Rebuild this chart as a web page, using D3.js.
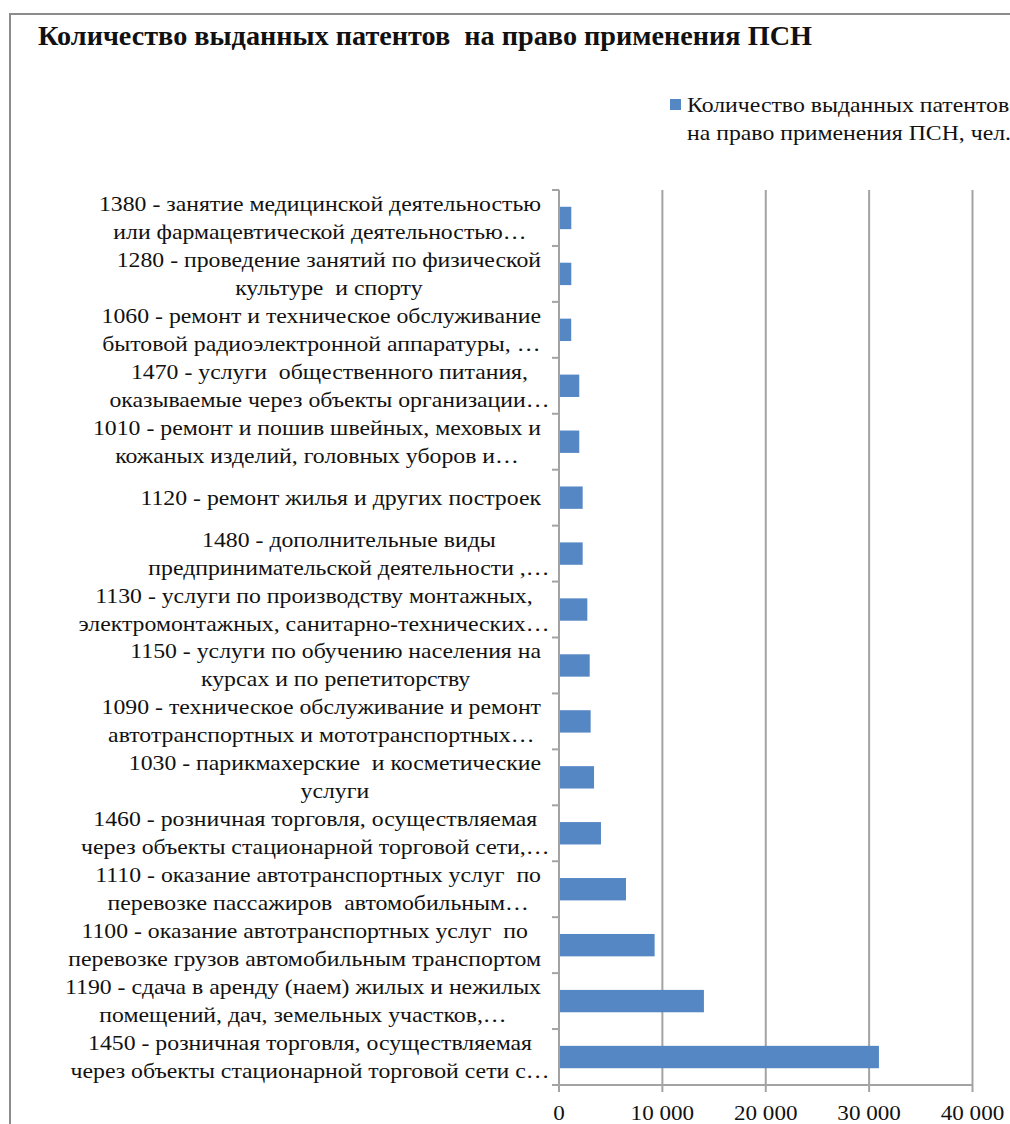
<!DOCTYPE html>
<html>
<head>
<meta charset="utf-8">
<script src="https://cdn.jsdelivr.net/npm/d3@7"></script>
</head>
<body style="margin:0;background:#fff">
<svg width="1010" height="1124"></svg>
<script>
var title = "Количество выданных патентов  на право применения ПСН";
var seriesName = ["Количество выданных патентов", "на право применения ПСН, чел."];
var codes = ["1380", "1280", "1060", "1470", "1010", "1120", "1480", "1130",
             "1150", "1090", "1030", "1460", "1110", "1100", "1190", "1450"];
var labelLines = [
    ["1380 - занятие медицинской деятельностью", "или фармацевтической деятельностью…"],
    ["1280 - проведение занятий по физической", "культуре  и спорту"],
    ["1060 - ремонт и техническое обслуживание", "бытовой радиоэлектронной аппаратуры, …"],
    ["1470 - услуги  общественного питания,", "оказываемые через объекты организации…"],
    ["1010 - ремонт и пошив швейных, меховых и", "кожаных изделий, головных уборов и…"],
    ["1120 - ремонт жилья и других построек"],
    ["1480 - дополнительные виды", "предпринимательской деятельности ,…"],
    ["1130 - услуги по производству монтажных,", "электромонтажных, санитарно-технических…"],
    ["1150 - услуги по обучению населения на", "курсах и по репетиторству"],
    ["1090 - техническое обслуживание и ремонт", "автотранспортных и мототранспортных…"],
    ["1030 - парикмахерские  и косметические", "услуги"],
    ["1460 - розничная торговля, осуществляемая", "через объекты стационарной торговой сети,…"],
    ["1110 - оказание автотранспортных услуг  по", "перевозке пассажиров  автомобильным…"],
    ["1100 - оказание автотранспортных услуг  по", "перевозке грузов автомобильным транспортом"],
    ["1190 - сдача в аренду (наем) жилых и нежилых", "помещений, дач, земельных участков,…"],
    ["1450 - розничная торговля, осуществляемая", "через объекты стационарной торговой сети с…"]
];
var values = [1190, 1190, 1180, 1960, 1960, 2290, 2290, 2740, 2970, 3060, 3390, 4060, 6480, 9250, 14020, 30950];
var xTicks = [0, 10000, 20000, 30000, 40000];

var svg = d3.select("svg");
var barColor = "#5687c5",
    gridColor = "#a3a3a3";

var fmt = d3.formatLocale({decimal: ",", thousands: " ", grouping: [3], currency: ["", ""]}).format(",d");

var x = d3.scaleLinear().domain([0, 40000]).range([559, 972.5]);
var y = d3.scaleBand().domain(codes).range([190, 1085]).paddingInner(0.6).paddingOuter(0.3);
var step = y.step(), bw = y.bandwidth();

// serif text; double spaces kept with a no-break space
function serifText(g, s, size) {
    return g.append("text")
        .style("font-family", "'Liberation Serif'")
        .attr("font-size", size)
        .attr("fill", "#111")
        .text(s.replace(/  /g, " \u00a0"));
}
// the reference text is a bit wider than the font, so stretch it
function stretch(t, sx) {
    var w = t.node().getComputedTextLength();
    t.attr("textLength", w * sx).attr("lengthAdjust", "spacingAndGlyphs");
    return w * sx;
}

// chart frame
svg.append("rect")
    .attr("x", 10).attr("y", 14)
    .attr("width", 1100).attr("height", 1200)
    .attr("fill", "none").attr("stroke", "#8c8c8c").attr("stroke-width", 2);

// title
var tt = serifText(svg, title, 28)
    .attr("font-weight", "bold")
    .attr("x", 38).attr("y", 45);
tt.attr("textLength", 774).attr("lengthAdjust", "spacingAndGlyphs");

// legend
svg.append("rect")
    .attr("x", 670).attr("y", 99).attr("width", 11).attr("height", 11)
    .attr("fill", barColor);
seriesName.forEach(function (s, i) {
    var t = serifText(svg, s, 22).attr("x", 687).attr("y", 112 + i * 28);
    stretch(t, 1.08);
});

// grid lines
svg.append("g").selectAll("line")
    .data(xTicks.slice(1))
    .enter().append("line")
    .attr("x1", function (d) { return x(d); })
    .attr("x2", function (d) { return x(d); })
    .attr("y1", 190).attr("y2", 1085)
    .attr("stroke", gridColor).attr("stroke-width", 2);

// bars
svg.append("g").selectAll("rect")
    .data(codes)
    .enter().append("rect")
    .attr("x", x(0))
    .attr("y", function (d) { return y(d); })
    .attr("height", bw)
    .attr("width", function (d, i) { return x(values[i]) - x(0); })
    .attr("fill", barColor);

// axes
var axes = svg.append("g").attr("stroke", gridColor).attr("stroke-width", 2);
axes.append("line").attr("x1", x(0)).attr("x2", x(0)).attr("y1", 190).attr("y2", 1085);
axes.append("line").attr("x1", x(0)).attr("x2", x(40000)).attr("y1", 1085).attr("y2", 1085);
// category ticks on band boundaries
var bounds = codes.map(function (c) { return y(c) - (step - bw) / 2; });
bounds.push(bounds[bounds.length - 1] + step);
axes.selectAll(".ctick")
    .data(bounds)
    .enter().append("line")
    .attr("x1", x(0) - 7).attr("x2", x(0))
    .attr("y1", function (d) { return d; })
    .attr("y2", function (d) { return d; });
axes.selectAll(".vtick")
    .data(xTicks)
    .enter().append("line")
    .attr("x1", function (d) { return x(d); })
    .attr("x2", function (d) { return x(d); })
    .attr("y1", 1085).attr("y2", 1092);

// value tick labels
xTicks.forEach(function (d) {
    var t = serifText(svg, fmt(d), 22)
        .attr("text-anchor", "middle")
        .attr("x", x(d)).attr("y", 1120);
    stretch(t, 1.05);
});

// category labels: lines centered on each other, block right-aligned to the axis
var labelRight = 541, lineH = 28, sx = 1.08;
codes.forEach(function (c, i) {
    var lines = labelLines[i];
    var cy = y(c) + bw / 2;
    var g = svg.append("g");
    var texts = lines.map(function (l, j) {
        return serifText(g, l, 22)
            .attr("text-anchor", "middle")
            .attr("y", cy + 7 + (j - (lines.length - 1) / 2) * lineH);
    });
    var maxW = d3.max(texts, function (t, j) {
        var w = stretch(t, sx);
        if (lines[j].slice(-1) === "…") w -= 17;
        return w;
    });
    texts.forEach(function (t) { t.attr("x", labelRight - maxW / 2); });
});
</script>
</body>
</html>
